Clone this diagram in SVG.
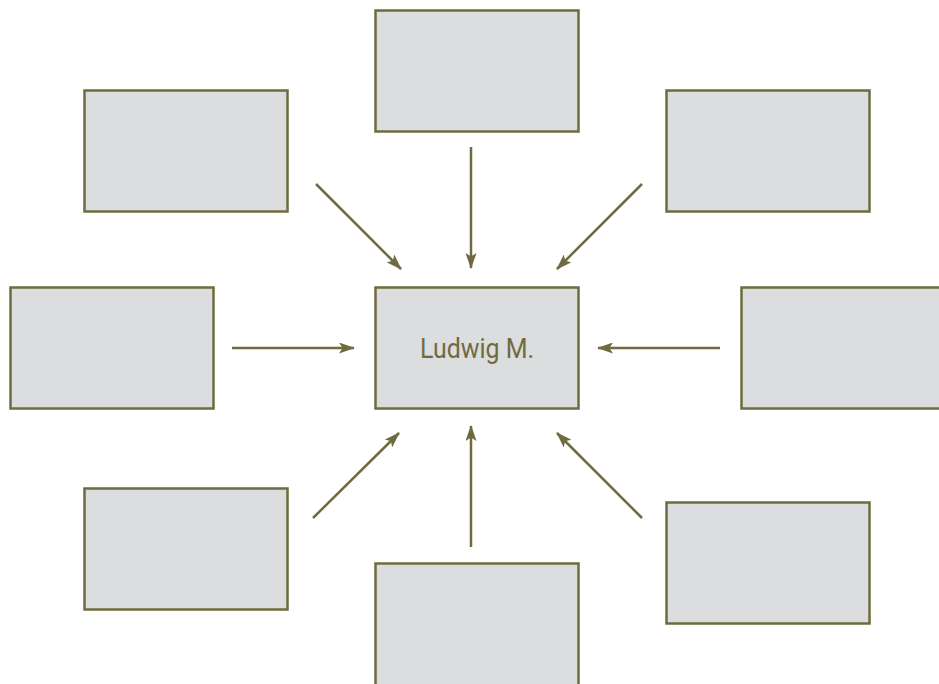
<svg xmlns="http://www.w3.org/2000/svg" width="939" height="684" viewBox="0 0 939 684">
<style>
.box{fill:#dcdddf;stroke:#6f6b3e;stroke-width:2.5}
.ln{stroke:#6f6b3e;stroke-width:2.5;fill:none;marker-end:url(#ah)}
.lbl{font-family:"Roboto","Liberation Sans",sans-serif;font-size:28px;fill:#6f6b3e}
</style>
<defs>
<marker id="ah" viewBox="0 0 16 11" refX="15" refY="5.5" markerWidth="16" markerHeight="11" markerUnits="userSpaceOnUse" orient="auto">
<path d="M0,0 L16,5.5 L0,11 L3.5,5.5 Z" fill="#6f6b3e"/>
</marker>
</defs>
<rect width="939" height="684" fill="#ffffff"/>
<g id="connectors">
<line class="ln" x1="471" y1="147" x2="471" y2="268"/>
<line class="ln" x1="316" y1="184" x2="401" y2="269"/>
<line class="ln" x1="642" y1="184" x2="557" y2="269"/>
<line class="ln" x1="232" y1="348" x2="354" y2="348"/>
<line class="ln" x1="720" y1="348" x2="598" y2="348"/>
<line class="ln" x1="313" y1="518" x2="399" y2="433"/>
<line class="ln" x1="471" y1="547" x2="471" y2="426"/>
<line class="ln" x1="642" y1="518" x2="557" y2="433"/>
</g>
<g id="center"><rect class="box" x="375.5" y="287.5" width="203" height="121"/>
<text class="lbl" x="477" y="358" text-anchor="middle" textLength="114" lengthAdjust="spacingAndGlyphs">Ludwig M.</text></g>
<g id="top"><rect class="box" x="375.5" y="10.5" width="203" height="121"/></g>
<g id="top-left"><rect class="box" x="84.5" y="90.5" width="203" height="121"/></g>
<g id="top-right"><rect class="box" x="666.5" y="90.5" width="203" height="121"/></g>
<g id="left"><rect class="box" x="10.5" y="287.5" width="203" height="121"/></g>
<g id="right"><rect class="box" x="741.5" y="287.5" width="203" height="121"/></g>
<g id="bottom-left"><rect class="box" x="84.5" y="488.5" width="203" height="121"/></g>
<g id="bottom"><rect class="box" x="375.5" y="563.5" width="203" height="130"/></g>
<g id="bottom-right"><rect class="box" x="666.5" y="502.5" width="203" height="121"/></g>
</svg>
